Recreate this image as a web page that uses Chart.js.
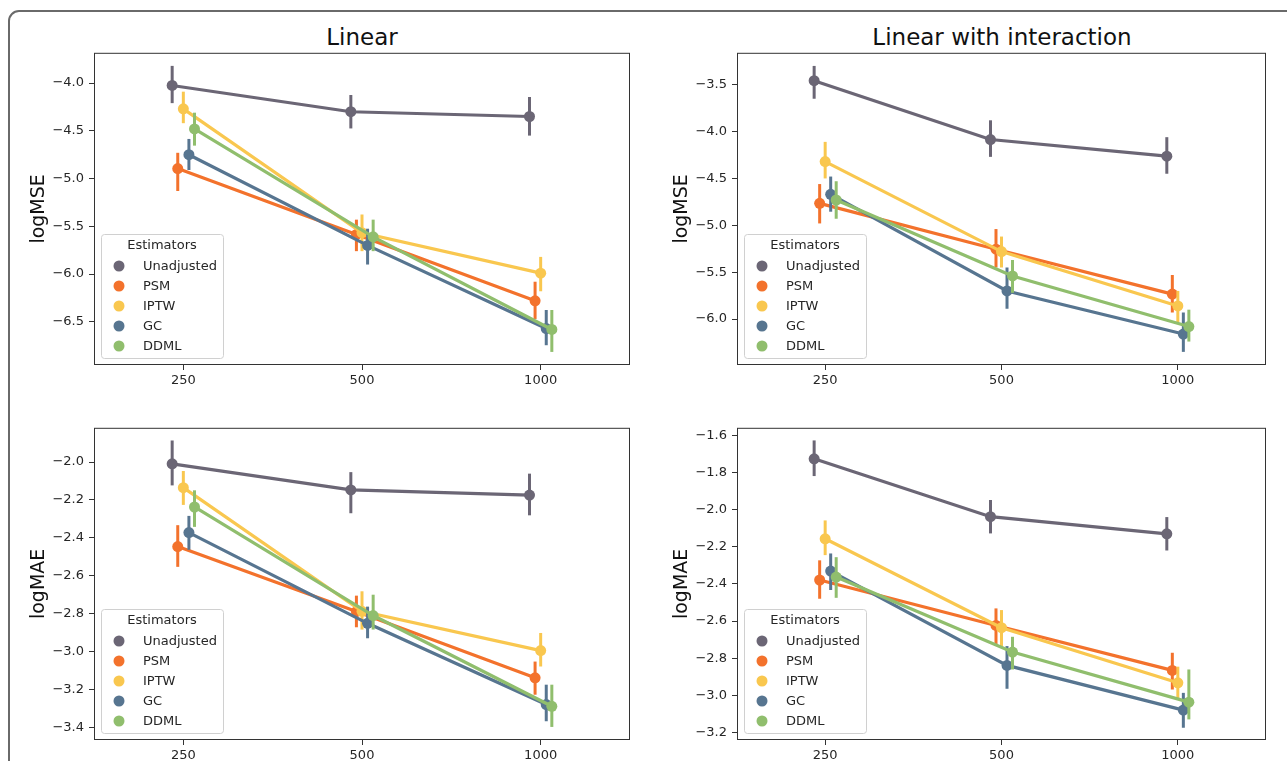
<!DOCTYPE html>
<html>
<head>
<meta charset="utf-8">
<script src="https://cdn.jsdelivr.net/npm/chart.js@4.4.1/dist/chart.umd.min.js"></script>
<style>
  body { margin: 0; background: #fff; width: 1287px; height: 761px; overflow: hidden; position: relative; font-family: "DejaVu Sans", sans-serif; }
  .frame { position: absolute; left: 8px; top: 10px; width: 1400px; height: 900px; border: 2px solid #6a6a6a; border-radius: 11px; }
  .panel { position: absolute; }
  .title { position: absolute; top: 22px; width: 600px; text-align: center; font-size: 23px; line-height: 30px; color: #111; }
</style>
</head>
<body>
<div class="frame"></div>
<div class="title" style="left:62px">Linear</div>
<div class="title" style="left:702px">Linear with interaction</div>
<script>
const sampleSizes = ["250", "500", "1000"];
const estimators = ["Unadjusted", "PSM", "IPTW", "GC", "DDML"];
const estimatorColors = ["#6b6675", "#f3722c", "#f9c74f", "#577590", "#90be6d"];

// Linear, logMSE (rows follow estimators, columns follow sampleSizes)
const linearMSE = [
  [-4.025, -4.30, -4.35],
  [-4.895, -5.585, -6.28],
  [-4.27, -5.567, -5.99],
  [-4.75, -5.70, -6.57],
  [-4.48, -5.61, -6.58]
];
const linearMSELow = [
  [-4.21, -4.475, -4.55],
  [-5.13, -5.76, -6.47],
  [-4.42, -5.76, -6.18],
  [-4.91, -5.90, -6.745],
  [-4.655, -5.76, -6.815]
];
const linearMSEHigh = [
  [-3.82, -4.125, -4.146],
  [-4.73, -5.43, -6.08],
  [-4.09, -5.376, -5.82],
  [-4.585, -5.525, -6.376],
  [-4.31, -5.43, -6.376]
];
const linearMSETicks = [-6.5, -6.0, -5.5, -5.0, -4.5, -4.0];

// Linear with interaction, logMSE
const interMSE = [
  [-3.457, -4.085, -4.263],
  [-4.766, -5.255, -5.734],
  [-4.32, -5.28, -5.86],
  [-4.67, -5.70, -6.16],
  [-4.73, -5.54, -6.08]
];
const interMSELow = [
  [-3.65, -4.27, -4.45],
  [-4.98, -5.45, -5.93],
  [-4.50, -5.45, -6.035],
  [-4.855, -5.89, -6.35],
  [-4.93, -5.72, -6.24]
];
const interMSEHigh = [
  [-3.30, -3.88, -4.06],
  [-4.56, -5.04, -5.53],
  [-4.11, -5.12, -5.70],
  [-4.48, -5.45, -5.93],
  [-4.53, -5.37, -5.90]
];
const interMSETicks = [-6.0, -5.5, -5.0, -4.5, -4.0, -3.5];

// Linear, logMAE
const linearMAE = [
  [-2.009, -2.147, -2.174],
  [-2.446, -2.789, -3.139],
  [-2.135, -2.788, -2.995],
  [-2.372, -2.851, -3.28],
  [-2.237, -2.81, -3.289]
];
const linearMAELow = [
  [-2.123, -2.27, -2.281],
  [-2.553, -2.872, -3.228],
  [-2.226, -2.884, -3.079],
  [-2.463, -2.93, -3.368],
  [-2.342, -2.884, -3.398]
];
const linearMAEHigh = [
  [-1.886, -2.053, -2.061],
  [-2.333, -2.705, -3.053],
  [-2.047, -2.682, -2.902],
  [-2.284, -2.763, -3.175],
  [-2.149, -2.70, -3.175]
];
const linearMAETicks = [-3.4, -3.2, -3.0, -2.8, -2.6, -2.4, -2.2, -2.0];

// Linear with interaction, logMAE
const interMAE = [
  [-1.726, -2.038, -2.13],
  [-2.379, -2.624, -2.866],
  [-2.157, -2.636, -2.933],
  [-2.331, -2.839, -3.08],
  [-2.363, -2.767, -3.037]
];
const interMAELow = [
  [-1.819, -2.128, -2.22],
  [-2.48, -2.726, -2.969],
  [-2.245, -2.735, -3.022],
  [-2.433, -2.965, -3.175],
  [-2.475, -2.861, -3.13]
];
const interMAEHigh = [
  [-1.627, -1.948, -2.04],
  [-2.273, -2.532, -2.771],
  [-2.058, -2.541, -2.846],
  [-2.236, -2.735, -2.987],
  [-2.256, -2.685, -2.861]
];
const interMAETicks = [-3.2, -3.0, -2.8, -2.6, -2.4, -2.2, -2.0, -1.8, -1.6];

// ---------------- Layout ----------------
const Y_AXIS_W = 80;
const X_AXIS_H = 28;
const PAD_T = 12;
const PAD_R = 12;
const DODGE = 0.03125;

const panels = [
  { yLabel: "logMSE", mean: linearMSE, low: linearMSELow, high: linearMSEHigh, ticks: linearMSETicks,
    yMin: -6.952, yMax: -3.683, left: 94, right: 630, top: 53, bottom: 366 },
  { yLabel: "logMSE", mean: interMSE, low: interMSELow, high: interMSEHigh, ticks: interMSETicks,
    yMin: -6.49, yMax: -3.16, left: 737, right: 1266, top: 53, bottom: 366 },
  { yLabel: "logMAE", mean: linearMAE, low: linearMAELow, high: linearMAEHigh, ticks: linearMAETicks,
    yMin: -3.467, yMax: -1.819, left: 94, right: 630, top: 428, bottom: 741 },
  { yLabel: "logMAE", mean: interMAE, low: interMAELow, high: interMAEHigh, ticks: interMAETicks,
    yMin: -3.241, yMax: -1.559, left: 737, right: 1266, top: 428, bottom: 741 }
];

Chart.defaults.font.family = "'DejaVu Sans', sans-serif";
Chart.defaults.color = "#262626";

// ---------------- Plugins ----------------
const errorBars = {
  id: "errorBars",
  beforeDatasetDraw(chart, args) {
    const ds = chart.data.datasets[args.index];
    const { x, y } = chart.scales;
    const ctx = chart.ctx;
    ctx.save();
    ctx.strokeStyle = ds.borderColor;
    ctx.lineWidth = 3;
    ds.data.forEach((pt, j) => {
      const px = x.getPixelForValue(pt.x);
      ctx.beginPath();
      ctx.moveTo(px, y.getPixelForValue(ds.low[j]));
      ctx.lineTo(px, y.getPixelForValue(ds.high[j]));
      ctx.stroke();
    });
    ctx.restore();
  }
};

const axesBox = {
  id: "axesBox",
  afterDatasetsDraw(chart) {
    const a = chart.chartArea;
    const ctx = chart.ctx;
    ctx.save();
    ctx.strokeStyle = "#333";
    ctx.lineWidth = 1;
    ctx.strokeRect(a.left + 0.5, a.top + 0.5, a.right - a.left - 1, a.bottom - a.top - 1);
    ctx.restore();
  }
};

const boxLegend = {
  id: "boxLegend",
  afterDraw(chart) {
    const a = chart.chartArea;
    const ctx = chart.ctx;
    const w = 122, h = 124;
    const bx = a.left + 7, by = a.bottom - 7 - h;
    ctx.save();
    ctx.beginPath();
    ctx.roundRect(bx + 0.5, by + 0.5, w, h, 3);
    ctx.fillStyle = "rgba(255,255,255,0.8)";
    ctx.fill();
    ctx.strokeStyle = "#d0d0d0";
    ctx.lineWidth = 1;
    ctx.stroke();
    ctx.font = "13px 'DejaVu Sans'";
    ctx.fillStyle = "#262626";
    ctx.textBaseline = "middle";
    ctx.textAlign = "center";
    ctx.fillText("Estimators", bx + w / 2, by + 12);
    ctx.textAlign = "left";
    estimators.forEach((name, i) => {
      const cy = by + 32 + 20 * i;
      ctx.beginPath();
      ctx.arc(bx + 18, cy, 5.5, 0, Math.PI * 2);
      ctx.fillStyle = estimatorColors[i];
      ctx.fill();
      ctx.fillStyle = "#262626";
      ctx.fillText(name, bx + 42, cy + 1);
    });
    ctx.restore();
  }
};

// ---------------- Panels ----------------
function fmt(v) {
  return v.toFixed(1).replace("-", "\u2212");
}

function makePanel(p) {
  const wrap = document.createElement("div");
  wrap.className = "panel";
  const canvas = document.createElement("canvas");
  const W = Y_AXIS_W + (p.right - p.left) + PAD_R;
  const H = PAD_T + (p.bottom - p.top) + X_AXIS_H;
  canvas.width = W;
  canvas.height = H;
  canvas.style.width = W + "px";
  canvas.style.height = H + "px";
  wrap.appendChild(canvas);
  document.body.appendChild(wrap);

  const datasets = estimators.map((name, i) => ({
    label: name,
    data: p.mean[i].map((y, j) => ({ x: j + (i - 2) * DODGE, y })),
    low: p.low[i],
    high: p.high[i],
    borderColor: estimatorColors[i],
    backgroundColor: estimatorColors[i],
    pointBackgroundColor: estimatorColors[i],
    pointBorderWidth: 0,
    pointRadius: 5.5,
    pointHoverRadius: 5.5,
    borderWidth: 3.2,
    tension: 0,
    order: estimators.length - i
  }));

  const chart = new Chart(canvas, {
    type: "line",
    data: { datasets },
    plugins: [errorBars, axesBox, boxLegend],
    options: {
      responsive: false,
      animation: false,
      devicePixelRatio: 1,
      layout: { padding: { top: PAD_T, right: PAD_R, left: 0, bottom: 0 } },
      plugins: { legend: { display: false }, tooltip: { enabled: false } },
      scales: {
        x: {
          type: "linear",
          min: -0.5,
          max: 2.5,
          afterBuildTicks: s => { s.ticks = [0, 1, 2].map(v => ({ value: v })); },
          afterFit: s => { s.height = X_AXIS_H; },
          ticks: { callback: v => sampleSizes[v], font: { size: 13 }, padding: 3, maxRotation: 0 },
          grid: { display: true, drawOnChartArea: false, drawTicks: true, tickLength: 5, color: "#333" },
          border: { display: false }
        },
        y: {
          min: p.yMin,
          max: p.yMax,
          afterBuildTicks: s => { s.ticks = p.ticks.map(v => ({ value: v })); },
          afterFit: s => { s.width = Y_AXIS_W; },
          ticks: { callback: v => fmt(v), font: { size: 13 }, padding: 5 },
          grid: { display: true, drawOnChartArea: false, drawTicks: true, tickLength: 5, color: "#333" },
          border: { display: false },
          title: { display: true, text: p.yLabel, font: { size: 19 }, color: "#111", padding: { top: 14, bottom: 0 } }
        }
      }
    }
  });

  const a = chart.chartArea;
  wrap.style.left = (p.left - a.left) + "px";
  wrap.style.top = (p.top - a.top) + "px";
}

panels.forEach(makePanel);
</script>
</body>
</html>
